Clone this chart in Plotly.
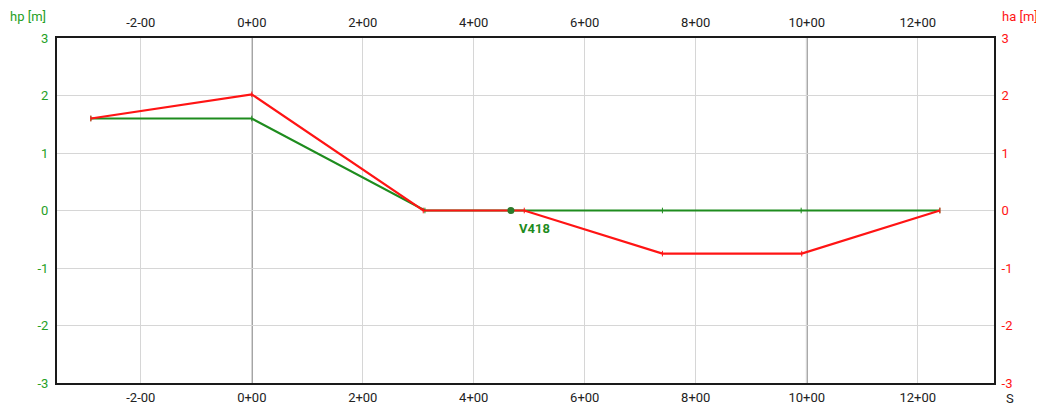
import plotly.graph_objects as go

# Data
hp_x = [-290, 0, 312, 740, 990, 1240]
hp_y = [1.6, 1.6, 0.0, 0.0, 0.0, 0.0]
ha_x = [-290, 0, 309, 491, 740, 991, 1240]
ha_y = [1.6, 2.02, 0.0, 0.0, -0.75, -0.75, 0.0]
pt_x = [467]
pt_y = [0.0]
pt_label = ["V418"]

x_tickvals = [-200, 0, 200, 400, 600, 800, 1000, 1200]
x_ticktext = ["-2-00", "0+00", "2+00", "4+00", "6+00", "8+00", "10+00", "12+00"]
y_tickvals = [-3, -2, -1, 0, 1, 2, 3]
y_ticktext = ["-3", "-2", "-1", "0", "1", "2", "3"]

GREEN = "#1e8c1e"
GREEN_TXT = "#25a025"
RED = "#ff1414"
FONT = "Roboto"

fig = go.Figure()
fig.add_trace(go.Scatter(x=hp_x, y=hp_y, mode="lines+markers",
                         line=dict(color=GREEN, width=2.2),
                         marker=dict(symbol="line-ns", size=4, line=dict(color=GREEN, width=1)),
                         showlegend=False, hoverinfo="skip"))
fig.add_trace(go.Scatter(x=ha_x, y=ha_y, mode="lines+markers",
                         line=dict(color=RED, width=2.2),
                         marker=dict(symbol="line-ns", size=4, line=dict(color=RED, width=1)),
                         showlegend=False, hoverinfo="skip"))
fig.add_trace(go.Scatter(x=pt_x, y=pt_y, mode="markers",
                         marker=dict(symbol="circle", size=7, color="#2b7a2b"),
                         showlegend=False, hoverinfo="skip"))
# invisible trace to activate secondary axes
fig.add_trace(go.Scatter(x=[0], y=[0], xaxis="x2", yaxis="y2", mode="markers",
                         marker=dict(opacity=0), showlegend=False, hoverinfo="skip"))

for i, t in enumerate(pt_label):
    fig.add_annotation(x=pt_x[i], y=pt_y[i], text="<b>%s</b>" % t, showarrow=False,
                       xanchor="left", yanchor="top", xshift=6, yshift=-8,
                       font=dict(family=FONT, size=13, color=GREEN))

xr = [-351, 1337.5]
common_x = dict(range=xr, tickvals=x_tickvals, ticktext=x_ticktext, automargin=False,
                showgrid=True, gridcolor="#d6d6d6", gridwidth=1, zeroline=False,
                showline=True, linecolor="#1a1a1a", linewidth=2,
                tickfont=dict(family=FONT, size=13, color="#222"),
                ticks="outside", tickcolor="rgba(0,0,0,0)")
fig.update_layout(
    width=1036, height=398,
    margin=dict(l=49, r=50, t=30, b=23),
    paper_bgcolor="white", plot_bgcolor="white",
    xaxis=dict(**common_x, side="bottom", mirror=True, ticklen=1),
    xaxis2=dict(**common_x, side="top", overlaying="x", matches="x", anchor="y", ticklen=4),
    yaxis=dict(range=[-3, 3], tickvals=y_tickvals, ticktext=y_ticktext, automargin=False,
               showgrid=True, gridcolor="#d6d6d6",
               zeroline=False, showline=True, linecolor="#1a1a1a", linewidth=2, mirror=True,
               tickfont=dict(family=FONT, size=13, color=GREEN_TXT),
               ticks="outside", ticklen=4, tickcolor="rgba(0,0,0,0)"),
    yaxis2=dict(range=[-3, 3], tickvals=y_tickvals, ticktext=y_ticktext, automargin=False,
                showgrid=False, zeroline=False,
                overlaying="y", side="right", anchor="x",
                tickfont=dict(family=FONT, size=13, color=RED),
                ticks="outside", ticklen=4, tickcolor="rgba(0,0,0,0)"),
)

# darker reference lines
fig.add_shape(type="line", xref="x", yref="paper", x0=0, x1=0, y0=0, y1=1,
              line=dict(color="#555", width=1.5), layer="between")
fig.add_shape(type="line", xref="x", yref="paper", x0=1000, x1=1000, y0=0, y1=1,
              line=dict(color="#444", width=1.5), layer="between")
fig.add_shape(type="line", xref="paper", yref="y", x0=0, x1=1, y0=0, y1=0,
              line=dict(color="#444", width=1.2), layer="between")

fig.add_annotation(xref="paper", yref="paper", x=-0.052, y=1.0, yshift=12,
                   text="hp [m]", showarrow=False, xanchor="left", yanchor="bottom",
                   font=dict(family=FONT, size=13, color=GREEN_TXT))
fig.add_annotation(xref="paper", yref="paper", x=1.0, y=1.0, xshift=6, yshift=12,
                   text="ha [m]", showarrow=False, xanchor="left", yanchor="bottom",
                   font=dict(family=FONT, size=13, color=RED))
fig.add_annotation(xref="paper", yref="paper", x=1.0, y=0.0, xshift=10, yshift=-6,
                   text="S", showarrow=False, xanchor="left", yanchor="top",
                   font=dict(family=FONT, size=13, color="#222"))

fig.write_html("out.html")
